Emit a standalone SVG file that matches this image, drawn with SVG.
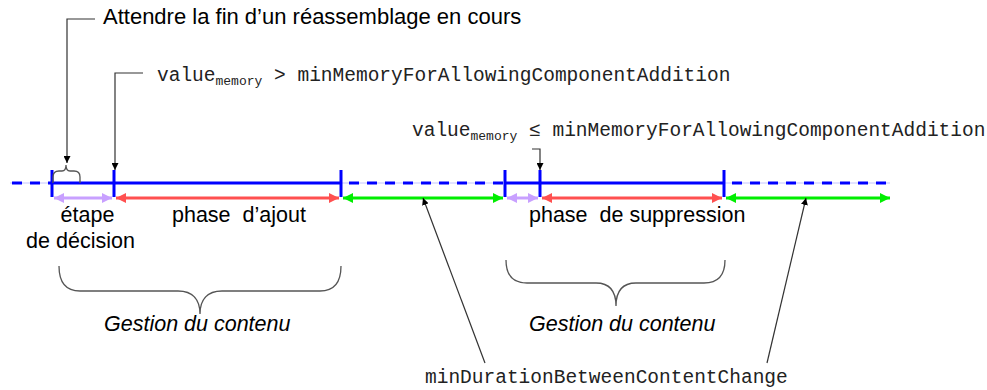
<svg xmlns="http://www.w3.org/2000/svg" width="987" height="390" viewBox="0 0 987 390">
<style>
.sans{font-family:"Liberation Sans",Arial,sans-serif;font-size:21.5px;fill:#000}
.big{font-size:22px}
.mono{font-family:"Liberation Mono","Courier New",monospace;font-size:19.5px;fill:#222}
.sub{font-size:13px}
.tl{stroke:#0000ff;stroke-width:3;fill:none}
.dash{stroke:#0000ff;stroke-width:3;stroke-dasharray:10 8;fill:none}
.pale{stroke:#c4c4ff;stroke-width:1;fill:none}
.lead{stroke:#333;stroke-width:1.2;fill:none}
.brace{stroke:#555;stroke-width:1.3;fill:none}
</style>
<defs>
<marker id="mL" viewBox="0 0 10 10" refX="10" refY="5" markerWidth="10" markerHeight="10" markerUnits="userSpaceOnUse" orient="auto-start-reverse"><path d="M0,0 L10,5 L0,10 Z" fill="#c8a0ff"/></marker>
<marker id="mR" viewBox="0 0 10 10" refX="10" refY="5" markerWidth="10" markerHeight="10" markerUnits="userSpaceOnUse" orient="auto-start-reverse"><path d="M0,0 L10,5 L0,10 Z" fill="#ff5050"/></marker>
<marker id="mG" viewBox="0 0 10 10" refX="10" refY="5" markerWidth="10" markerHeight="10" markerUnits="userSpaceOnUse" orient="auto-start-reverse"><path d="M0,0 L10,5 L0,10 Z" fill="#00ee00"/></marker>
<marker id="mK" viewBox="0 0 10 10" refX="10" refY="5" markerWidth="7" markerHeight="7" markerUnits="userSpaceOnUse" orient="auto"><path d="M0,0 L10,5 L0,10 Z" fill="#000"/></marker>
</defs>

<g id="timeline">
<line class="pale" x1="10" y1="183" x2="890" y2="183"/>
<line class="dash" x1="12" y1="183" x2="52" y2="183"/>
<line class="tl" x1="52" y1="183" x2="341" y2="183"/>
<line class="dash" x1="349" y1="183" x2="505" y2="183"/>
<line class="tl" x1="505" y1="183" x2="724" y2="183"/>
<line class="dash" x1="732" y1="183" x2="890" y2="183"/>
<line class="tl" x1="52" y1="170" x2="52" y2="197"/>
<line class="tl" x1="114" y1="170" x2="114" y2="197"/>
<line class="tl" x1="341" y1="170" x2="341" y2="197"/>
<line class="tl" x1="505" y1="170" x2="505" y2="197"/>
<line class="tl" x1="540" y1="170" x2="540" y2="197"/>
<line class="tl" x1="724" y1="170" x2="724" y2="197"/>
</g>

<g id="connectors">
<line x1="54" y1="198" x2="112" y2="198" stroke="#c8a0ff" stroke-width="3" marker-start="url(#mL)" marker-end="url(#mL)"/>
<line x1="116" y1="198" x2="339" y2="198" stroke="#ff5050" stroke-width="3" marker-start="url(#mR)" marker-end="url(#mR)"/>
<line x1="343" y1="198" x2="503" y2="198" stroke="#00ee00" stroke-width="3" marker-start="url(#mG)" marker-end="url(#mG)"/>
<line x1="507" y1="198" x2="538" y2="198" stroke="#c8a0ff" stroke-width="3" marker-start="url(#mL)" marker-end="url(#mL)"/>
<line x1="542" y1="198" x2="722" y2="198" stroke="#ff5050" stroke-width="3" marker-start="url(#mR)" marker-end="url(#mR)"/>
<line x1="726" y1="198" x2="890" y2="198" stroke="#00ee00" stroke-width="3" marker-start="url(#mG)" marker-end="url(#mG)"/>
<polyline class="lead" points="95,19 67,19 67,163" marker-end="url(#mK)"/>
<polyline class="lead" points="143,73 115,73 115,170" marker-end="url(#mK)"/>
<polyline class="lead" points="532,149 540,149 540,170" marker-end="url(#mK)"/>
<line class="lead" x1="485" y1="363" x2="423" y2="198" marker-end="url(#mK)"/>
<line class="lead" x1="767" y1="363" x2="806" y2="198" marker-end="url(#mK)"/>
</g>

<g id="brace-small">
<path class="brace" d="M53,183 L53,177 Q53,171 59,171 L62,171 Q66,171 66,165 Q66,171 70,171 L74,171 Q80,171 80,177 L80,183"/>
</g>
<g id="brace-gestion-1">
<path class="brace" d="M59,266 C59,282 65,291 80,291 L178,291 C193,291 200,300 200,314 C200,300 207,291 222,291 L320,291 C335,291 341,282 341,266"/>
<text class="sans" x="104" y="331" font-style="italic">Gestion du contenu</text>
</g>
<g id="brace-gestion-2">
<path class="brace" d="M506,260 C506,275 512,283 527,283 L596,283 C610,283 616,292 616,306 C616,292 622,283 636,283 L704,283 C719,283 725,275 725,260"/>
<text class="sans" x="529" y="331" font-style="italic">Gestion du contenu</text>
</g>

<g id="label-attendre">
<text class="sans big" x="103" y="24">Attendre la fin d’un réassemblage en cours</text>
</g>
<g id="label-value-gt">
<text class="mono" x="157" y="81">value<tspan class="sub" dy="4">memory</tspan><tspan dy="-4"> &gt; minMemoryForAllowingComponentAddition</tspan></text>
</g>
<g id="label-value-le">
<text class="mono" x="412" y="136">value<tspan class="sub" dy="4">memory</tspan><tspan dy="-4"> ≤ minMemoryForAllowingComponentAddition</tspan></text>
</g>
<g id="label-etape">
<text class="sans" x="87.5" y="222" text-anchor="middle">étape</text>
<text class="sans" x="80.5" y="248" text-anchor="middle">de décision</text>
</g>
<g id="label-ajout">
<text class="sans" x="172" y="222" xml:space="preserve">phase  d’ajout</text>
</g>
<g id="label-suppression">
<text class="sans" x="529" y="222" xml:space="preserve">phase  de suppression</text>
</g>
<g id="label-duration">
<text class="mono" x="425" y="383">minDurationBetweenContentChange</text>
</g>
</svg>
